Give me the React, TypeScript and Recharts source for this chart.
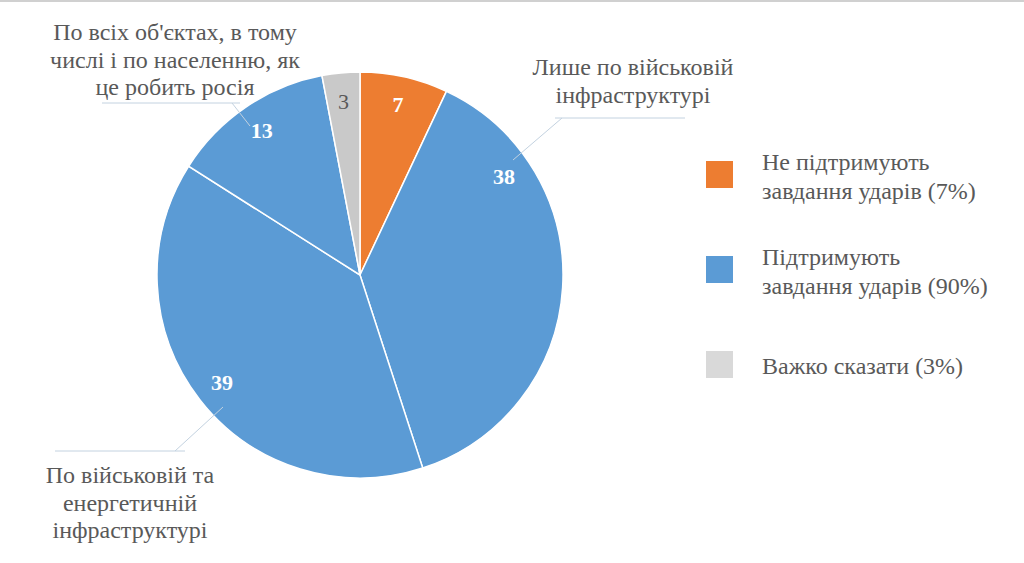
import React from "react";
import { PieChart, Pie, Cell, Legend } from "recharts";

// slices, clockwise from 12 o'clock
const categories = [
  "Не підтримують завдання ударів",
  "Лише по військовій інфраструктурі",
  "По військовій та енергетичній інфраструктурі",
  "По всіх об'єктах, в тому числі і по населенню, як це робить росія",
  "Важко сказати",
];
const values = [7, 38, 39, 13, 3];
const sliceColors = ["#ED7D31", "#5B9BD5", "#5B9BD5", "#5B9BD5", "#C9C9C9"];

// legend groups
const legendNames = [
  ["Не підтримують", "завдання ударів (7%)"],
  ["Підтримують", "завдання ударів (90%)"],
  ["Важко сказати (3%)"],
];
const legendColors = ["#ED7D31", "#5B9BD5", "#D9D9D9"];

// callout text for the blue sub-slices
const calloutLines: Record<number, string[]> = {
  1: ["Лише по військовій", "інфраструктурі"],
  2: ["По військовій та", "енергетичній", "інфраструктурі"],
  3: ["По всіх об'єктах, в тому", "числі і по населенню, як", "це робить росія"],
};

const FONT = "'Liberation Serif', 'Times New Roman', serif";
const TEXT = "#595959";
const LEADER = "#c3d2e0";

// the "38" label was dragged up towards the slice start in the original
const labelAngleShift = [0, 38, 0, 0, 0];

// callout layout, offsets from pie centre
const calloutLayout: Record<number, any> = {
  1: { pts: [[153, -115], [202, -157]], hx: [195, 325], tx: 273, ty: -208 },
  2: { pts: [[-137, 132], [-185, 176]], hx: [-305, -175], tx: -230, ty: 200 },
  3: { pts: [[-110, -149], [-128, -172]], hx: [-258, -120], tx: -185, ty: -243 },
};

const chartData = categories.map((name, i) => ({ name, value: values[i] }));

const RADIAN = Math.PI / 180;

const renderLabel = (props: any) => {
  const { cx, cy, midAngle, outerRadius, index, value } = props;
  const r = outerRadius * 0.86;
  const a = midAngle + labelAngleShift[index];
  const x = cx + r * Math.cos(-a * RADIAN);
  const y = cy + r * Math.sin(-a * RADIAN);
  const isGray = index === 4;
  const c = calloutLayout[index];
  return (
    <g>
      <text
        x={x}
        y={y}
        textAnchor="middle"
        dominantBaseline="central"
        fill={isGray ? TEXT : "#fff"}
        fontWeight={isGray ? 400 : 700}
        fontSize={22}
        style={{ fontFamily: FONT }}
      >
        {value}
      </text>
      {c && (
        <g>
          <line
            x1={cx + c.pts[0][0]}
            y1={cy + c.pts[0][1]}
            x2={cx + c.pts[1][0]}
            y2={cy + c.pts[1][1]}
            stroke={LEADER}
            strokeWidth={1}
          />
          <line
            x1={cx + c.hx[0]}
            y1={cy + c.pts[1][1]}
            x2={cx + c.hx[1]}
            y2={cy + c.pts[1][1]}
            stroke={LEADER}
            strokeWidth={1}
          />
          {calloutLines[index].map((t, k) => (
            <text
              key={k}
              x={cx + c.tx}
              y={cy + c.ty + k * 27.5}
              textAnchor="middle"
              dominantBaseline="central"
              fill={TEXT}
              fontSize={24}
              style={{ fontFamily: FONT }}
            >
              {t}
            </text>
          ))}
        </g>
      )}
    </g>
  );
};

const renderLegend = () => (
  <div style={{ fontFamily: FONT, color: TEXT, fontSize: 24 }}>
    {legendNames.map((lines, i) => (
      <div
        key={i}
        style={{ display: "flex", alignItems: "center", height: 95 }}
      >
        <div
          style={{
            width: 27,
            height: 27,
            background: legendColors[i],
            marginRight: 29,
            flexShrink: 0,
          }}
        />
        <div style={{ lineHeight: "29px", marginTop: 4 }}>
          {lines.map((l, k) => (
            <div key={k}>{l}</div>
          ))}
        </div>
      </div>
    ))}
  </div>
);

export default function App() {
  return (
    <div
      style={{
        position: "absolute",
        left: 0,
        top: 0,
        width: 1024,
        height: 563,
        background: "#fff",
        borderTop: "2px solid #d0d0d0",
        boxSizing: "border-box",
        overflow: "hidden",
        fontFamily: FONT,
      }}
    >
      <PieChart width={1024} height={561} style={{ fontFamily: FONT }}>
        <Pie
          data={chartData}
          cx={355}
          cy={268}
          outerRadius={203}
          startAngle={90}
          endAngle={-270}
          dataKey="value"
          stroke="#fff"
          strokeWidth={1.5}
          label={renderLabel}
          labelLine={false}
          isAnimationActive={false}
        >
          {chartData.map((entry, index) => (
            <Cell key={`cell-${index}`} fill={sliceColors[index]} />
          ))}
        </Pie>
        <Legend
          content={renderLegend}
          wrapperStyle={{ position: "absolute", left: 706, top: 125, width: 315 }}
        />
      </PieChart>
    </div>
  );
}
